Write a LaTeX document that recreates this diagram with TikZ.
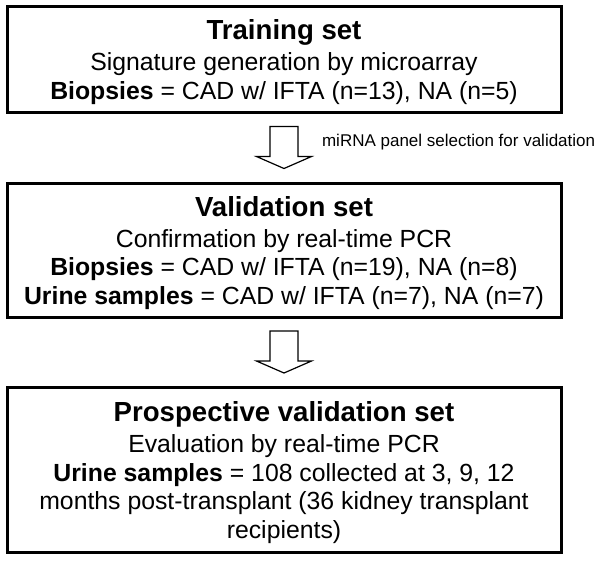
\documentclass[tikz,border=0pt]{standalone}
\usepackage{fontspec}
\setmainfont{Liberation Sans}
\usetikzlibrary{calc,positioning}
\newcommand{\settitle}[1]{\rule{0pt}{13pt}{\fontsize{13.8}{14.2}\selectfont\bfseries #1}}

\begin{document}
\begin{tikzpicture}[x=0.5pt,y=-0.5pt,
    setbox/.style={draw,line width=1.5pt,minimum width=277pt,inner sep=0pt,
      align=center,font=\fontsize{12.4}{14.2}\selectfont},
    blockarrow/.style={draw,line width=0.6pt,fill=white}]
  \useasboundingbox (0,0) rectangle (601,564);
  % the three sets
  \node[setbox,minimum height=53pt] (train) at (284,59)
    {\settitle{Training set}\\[1.3pt]
     Signature generation by microarray\\
     \textbf{Biopsies} = CAD w/ IFTA (n=13), NA (n=5)};
  \node[setbox,minimum height=67pt] (valid) at (284,250)
    {\settitle{Validation set}\\[1.3pt]
     Confirmation by real-time PCR\\
     \textbf{Biopsies} = CAD w/ IFTA (n=19), NA (n=8)\\
     \textbf{Urine samples} = CAD w/ IFTA (n=7), NA (n=7)};
  \node[setbox,minimum height=82.5pt] (prosp) at (284,469.5)
    {\settitle{Prospective validation set}\\[1.3pt]
     Evaluation by real-time PCR\\
     \textbf{Urine samples} = 108 collected at 3, 9, 12\\
     months post-transplant (36 kidney transplant\\
     recipients)};
  % hollow arrows between sets
  \foreach \a/\b in {train/valid,valid/prosp}{
    \coordinate (m-\a) at ($(\a.south)!0.5!(\b.north)$);
    \draw[blockarrow] (m-\a) ++(-14,-21) -- ++(28,0) -- ++(0,30) -- ++(13.5,0)
      -- ++(-27.5,12) -- ++(-27.5,-12) -- ++(13.5,0) -- cycle;
  }
  \node[anchor=west,font=\fontsize{8.5}{10}\selectfont] (sel) at ($(m-train)+(31,-5)$)
    {miRNA panel selection for validation};
\end{tikzpicture}
\end{document}
